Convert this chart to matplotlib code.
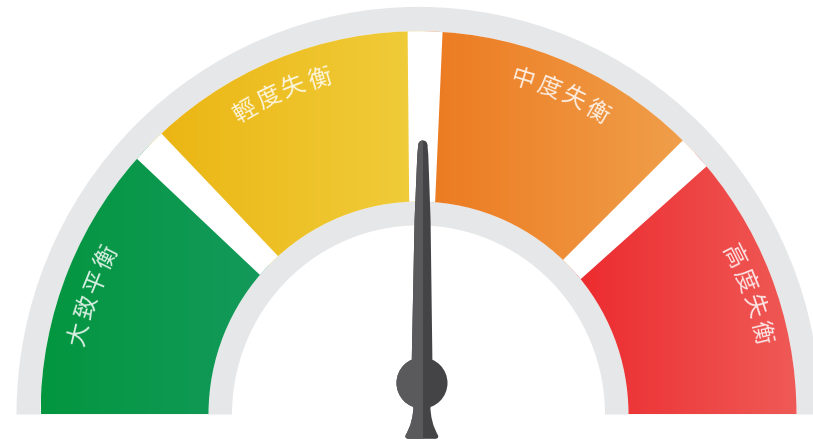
import numpy as np
import matplotlib.pyplot as plt
from matplotlib.patches import Wedge, Polygon, Circle, Rectangle
from matplotlib.colors import LinearSegmentedColormap
from matplotlib.transforms import Affine2D

plt.rcParams['font.family'] = ['Noto Sans CJK TC', 'DejaVu Sans']

# gauge segments, left to right
labels = ['大致平衡', '輕度失衡', '中度失衡', '高度失衡']
edges = [180, 135.5, 89, 43, 0]          # segment borders on the dial, degrees
color_left = ['#03963f', '#ebb512', '#ec7a20', '#ec2a2e']
color_right = ['#149a5c', '#f0cd3c', '#f0a04c', '#ef5a56']
label_angle = [160, 113.3, 66.3, 20.2]
needle_angle = 89.8

cx, cy = 418.5, 29.5
r_hole, r_in, r_out, r_rim = 186.5, 210, 378, 402
gray = '#e6e7e8'

fig = plt.figure(figsize=(8.13, 4.44), dpi=100)
ax = fig.add_axes([0, 0, 1, 1])

# dial is a touch taller than wide
squash = Affine2D().translate(-cx, -cy).scale(1, 1.014).translate(cx, cy)
tr = squash + ax.transData

ax.add_patch(Wedge((cx, cy), r_rim, 0, 180, width=r_rim - r_hole, fc=gray, ec='none', transform=tr, zorder=1))
band = Wedge((cx, cy), r_out, 0, 180, width=r_out - r_in, fc='white', ec='none', transform=tr, zorder=1)
ax.add_patch(band)

#coloured segments with a left->right gradient each
grad = np.linspace(0, 1, 256).reshape(1, -1)
for i in range(len(labels)):
    w = Wedge((cx, cy), r_out, edges[i + 1], edges[i], width=r_out - r_in, transform=tr)
    bb = w.get_path().transformed(squash).get_extents()
    cmap = LinearSegmentedColormap.from_list('seg%d' % i, [color_left[i], color_right[i]])
    im = ax.imshow(grad, cmap=cmap, extent=[bb.x0, bb.x1, bb.y0, bb.y1],
                   aspect='auto', origin='lower', interpolation='bilinear', zorder=2)
    im.set_clip_path(w)

# white gaps between segments
for a in edges[1:-1]:
    t = np.radians(a)
    d = np.array([np.cos(t), np.sin(t)])
    p = np.array([-np.sin(t), np.cos(t)])
    c = np.array([cx, cy])
    r0, r1 = r_in - 10, r_out + 10
    h0 = 13 - 4.5 * 10 / (r_out - r_in)
    h1 = 17.5 + 4.5 * 10 / (r_out - r_in)
    pts = [c + d * r0 - p * h0, c + d * r1 - p * h1, c + d * r1 + p * h1, c + d * r0 + p * h0]
    g = Polygon(pts, closed=True, fc='white', ec='none', transform=tr, zorder=3)
    ax.add_patch(g)
    g.set_clip_path(band)

# labels, one character at a time along the arc
step = 4.45
for lab, ang in zip(labels, label_angle):
    for k, ch in enumerate(lab):
        a = ang + (1.5 - k) * step
        t = np.radians(a)
        ax.text(cx + 1.5 + 350 * np.cos(t), cy + 350 * np.sin(t), ch, rotation=a - 90,
                rotation_mode='anchor', ha='center', va='center', fontsize=17,
                color='white', alpha=0.85, zorder=5)

# needle
px, py = 422, 61
nt = Affine2D().rotate_deg(needle_angle - 90).translate(px, py) + ax.transData
shaft_l = [(-10.5, 0), (-10.2, 30), (-8, 163), (-5.5, 228), (-4.6, 238)]
shaft = shaft_l + [(-x, y) for x, y in shaft_l[::-1]]
tail_l = [(-9, -18), (-8.5, -26), (-9.5, -34), (-11.5, -42), (-14.5, -49), (-16.5, -53), (-16, -55), (-14, -55.8)]
tail = tail_l + [(-x, y) for x, y in tail_l[::-1]]

half = Rectangle((-40, -70), 40, 330, transform=nt)
for col, clip in [('#444446', None), ('#5a5a5c', half)]:
    parts = [Polygon(shaft, closed=True), Circle((0, 238), 4.6),
             Circle((0, 0), 25.5), Polygon(tail, closed=True)]
    for pt in parts:
        pt.set_transform(nt)
        pt.set_facecolor(col)
        pt.set_edgecolor('none')
        pt.set_zorder(6)
        ax.add_patch(pt)
        if clip is not None:
            pt.set_clip_path(clip)

ax.set_xlim(0, 813)
ax.set_ylim(0, 444)
ax.axis('off')
fig.savefig('out.png', dpi=100, facecolor='white')
